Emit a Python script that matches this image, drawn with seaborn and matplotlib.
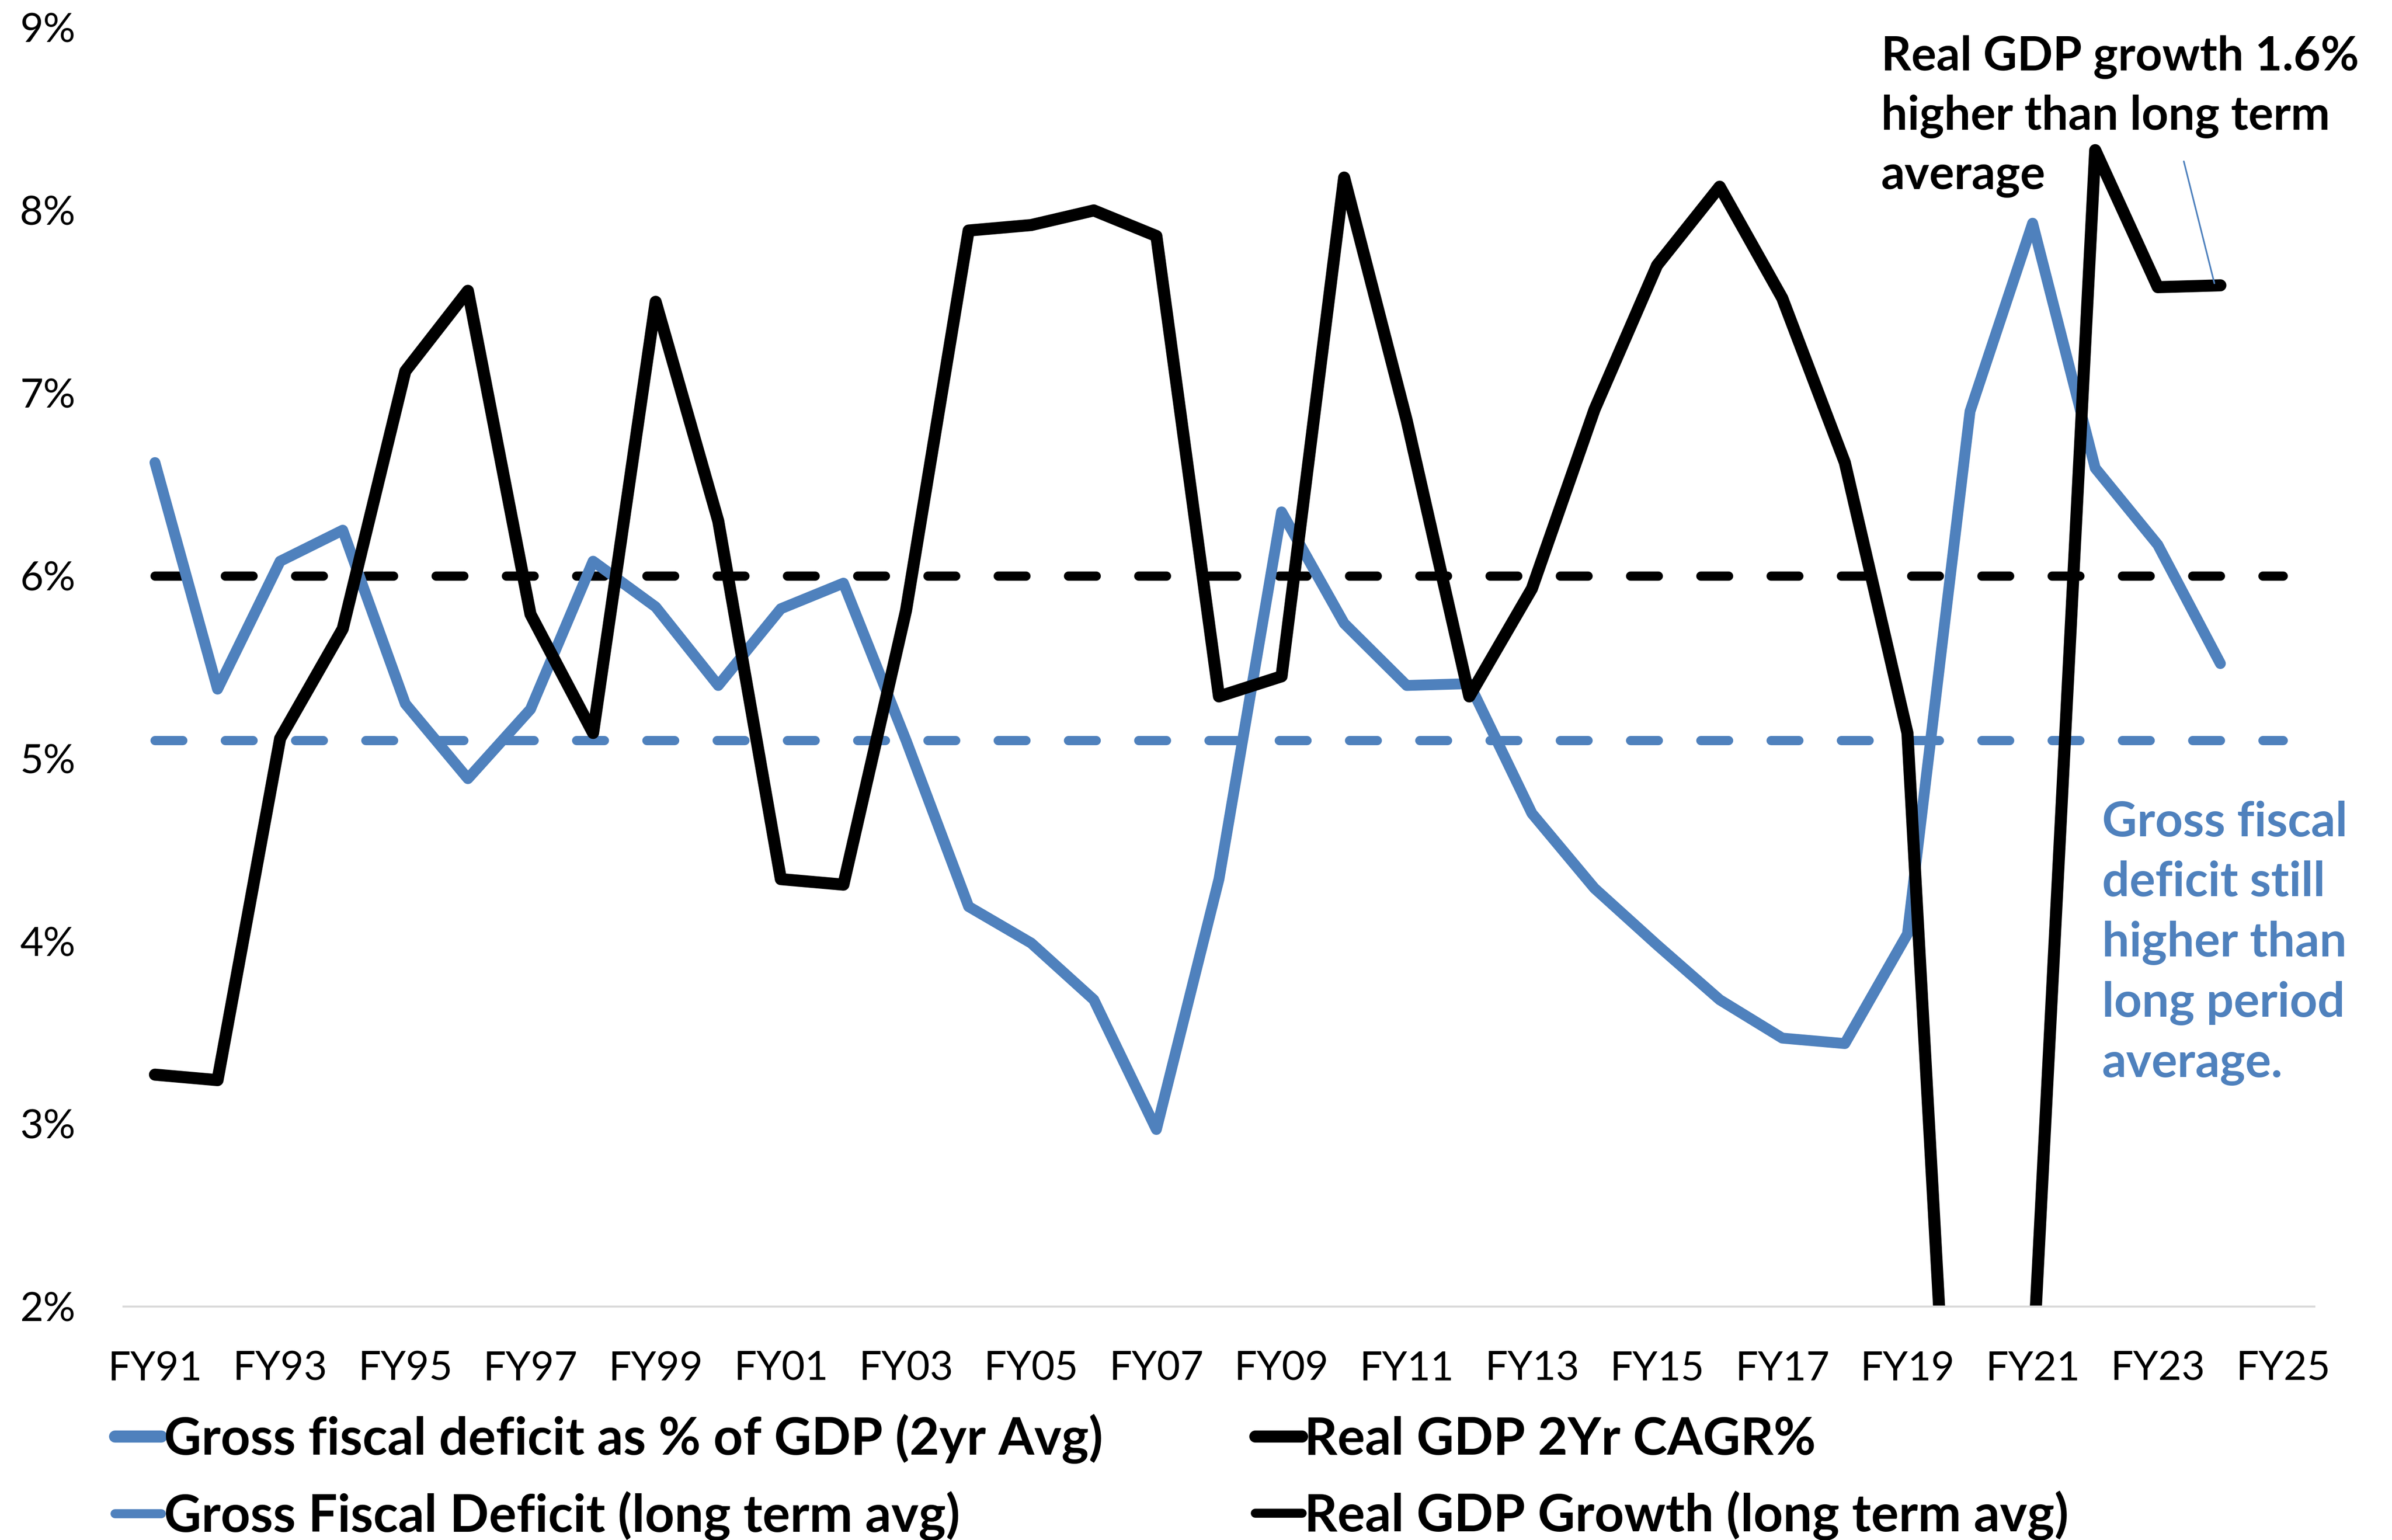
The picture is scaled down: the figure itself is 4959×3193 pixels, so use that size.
import matplotlib
matplotlib.use("Agg")
import matplotlib.pyplot as plt
from matplotlib.lines import Line2D
import seaborn as sns
import pandas as pd

# x-axis categories (FY25 has no data, only a tick)
years = ["FY91", "FY92", "FY93", "FY94", "FY95", "FY96", "FY97", "FY98", "FY99", "FY00",
         "FY01", "FY02", "FY03", "FY04", "FY05", "FY06", "FY07", "FY08", "FY09", "FY10",
         "FY11", "FY12", "FY13", "FY14", "FY15", "FY16", "FY17", "FY18", "FY19", "FY20",
         "FY21", "FY22", "FY23", "FY24", "FY25"]

gfd_2yr = [6.62, 5.38, 6.08, 6.25, 5.30, 4.89, 5.27, 6.08, 5.83, 5.40,
           5.82, 5.96, 5.10, 4.19, 3.99, 3.68, 2.97, 4.34, 6.35, 5.74,
           5.40, 5.41, 4.70, 4.29, 3.98, 3.68, 3.47, 3.44, 4.04, 6.90,
           7.93, 6.59, 6.17, 5.52]

gdp_cagr = [3.27, 3.24, 5.11, 5.71, 7.12, 7.56, 5.79, 5.14, 7.50, 6.30,
            4.34, 4.31, 5.81, 7.89, 7.92, 8.00, 7.86, 5.34, 5.45, 8.18,
            6.85, 5.34, 5.93, 6.91, 7.70, 8.13, 7.52, 6.62, 5.14, -1.07,
            1.65, 8.33, 7.58, 7.59]

gfd_avg = 5.1
gdp_avg = 6.0

BLUE = "#4F81BD"
BLACK = "#000000"

plt.rcParams["font.family"] = ["Lato", "DejaVu Sans"]

pos = list(range(len(years)))
df = pd.DataFrame({"pos": pos[:len(gfd_2yr)], "gfd": gfd_2yr, "gdp": gdp_cagr})
avg = pd.DataFrame({"pos": pos, "gfd_avg": [gfd_avg] * len(pos), "gdp_avg": [gdp_avg] * len(pos)})

fig = plt.figure(figsize=(4959 / 300, 3193 / 300), dpi=300)
ax = fig.add_axes([0.0517, 0.1515, 0.9158, 0.8305])

sns.lineplot(data=avg, x="pos", y="gdp_avg", ax=ax, color=BLACK, lw=4.6,
             dashes=False, linestyle=(0, (3, 4.6)), dash_capstyle="round")
sns.lineplot(data=avg, x="pos", y="gfd_avg", ax=ax, color=BLUE, lw=4.6,
             dashes=False, linestyle=(0, (3, 4.6)), dash_capstyle="round")
sns.lineplot(data=df, x="pos", y="gfd", ax=ax, color=BLUE, lw=5.4,
             solid_capstyle="round", solid_joinstyle="round")
sns.lineplot(data=df, x="pos", y="gdp", ax=ax, color=BLACK, lw=6.0,
             solid_capstyle="round", solid_joinstyle="round")

ax.set_xlim(-0.5, len(years) - 0.5)
ax.set_ylim(2, 9)
ax.set_xticks(pos[::2])
ax.set_xticklabels(years[::2])
ax.set_yticks(range(2, 10))
ax.set_yticklabels([f"{v}%" for v in range(2, 10)])
ax.tick_params(axis="both", length=0, labelsize=20)
ax.tick_params(axis="x", pad=22)
ax.tick_params(axis="y", pad=24)
ax.set_xlabel("")
ax.set_ylabel("")
for s in ["top", "right", "left"]:
    ax.spines[s].set_visible(False)
ax.spines["bottom"].set_color("#D9D9D9")
ax.spines["bottom"].set_linewidth(1.0)

# annotations
ax.text(27.58, 8.96, "Real GDP growth 1.6%\nhigher than long term\naverage",
        fontsize=23.3, fontweight="bold", color=BLACK, va="top", ha="left",
        linespacing=1.44)
ax.annotate("", xy=(32.92, 7.58), xytext=(32.4, 8.29),
            arrowprops=dict(arrowstyle="-", color=BLUE, lw=0.8))
ax.text(31.11, 4.77, "Gross fiscal\ndeficit still\nhigher than\nlong period\naverage.",
        fontsize=24, fontweight="bold", color=BLUE, va="top", ha="left",
        linespacing=1.45)

handles = [
    Line2D([], [], color=BLUE, lw=6, solid_capstyle="round"),
    Line2D([], [], color=BLUE, lw=4.5, solid_capstyle="round"),
    Line2D([], [], color=BLACK, lw=6, solid_capstyle="round"),
    Line2D([], [], color=BLACK, lw=4.5, solid_capstyle="round"),
]
labels = ["Gross fiscal deficit as % of GDP (2yr Avg)",
          "Gross Fiscal Deficit (long term avg)",
          "Real GDP 2Yr CAGR%",
          "Real GDP Growth (long term avg)"]
fig.legend(handles, labels, loc="upper left", bbox_to_anchor=(0.048, 0.082),
           ncol=2, frameon=False, prop={"weight": "bold", "size": 25.7},
           handlelength=0.9, handletextpad=0.05, columnspacing=2.95,
           labelspacing=0.53, borderpad=0, borderaxespad=0)

fig.savefig("out.png", dpi=300)
plt.close(fig)
